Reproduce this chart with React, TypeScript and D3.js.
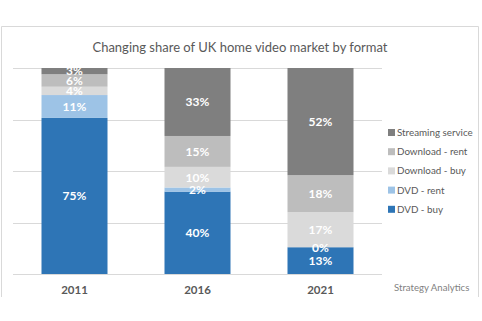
import React from "react";
import * as d3 from "d3";

const years = ["2011", "2016", "2021"];
const seriesNames = ["DVD - buy", "DVD - rent", "Download - buy", "Download - rent", "Streaming service"];
const dvdBuy = [75, 40, 13];
const dvdRent = [11, 2, 0];
const downloadBuy = [4, 10, 17];
const downloadRent = [6, 15, 18];
const streaming = [3, 33, 52];
const colors = ["#2E75B6", "#9DC3E6", "#DADADA", "#BDBDBD", "#7F7F7F"];
const gridTicks = [0, 0.25, 0.5, 0.75, 1];

const W = 482, H = 321;
const FONT = "Lato, 'Open Sans', sans-serif";

export default function App() {
  const seriesValues = [dvdBuy, dvdRent, downloadBuy, downloadRent, streaming];
  const rows = years.map((y, i) => {
    const r: any = { year: y };
    seriesNames.forEach((s, k) => (r[s] = seriesValues[k][i]));
    return r;
  });
  const stacked = d3.stack().keys(seriesNames).offset(d3.stackOffsetExpand)(rows);

  const x = d3.scaleBand().domain(years).range([13, 382]).paddingInner(0.4634).paddingOuter(0.2317);
  const y = d3.scaleLinear().domain([0, 1]).range([274, 68]);

  const legendOrder = [...seriesNames].reverse();

  return (
    <svg width={W} height={H} style={{ position: "absolute", left: 0, top: 0, background: "#fff" }}>
      <rect x={0} y={0} width={W} height={H} fill="#fff" />
      <path d={`M1.5,297 V26.5 H478.5 V297`} fill="none" stroke="#D9D9D9" strokeWidth={1} />
      <text x={240} y={52} textAnchor="middle" fontFamily={FONT} fontSize={13} fill="#595959">
        Changing share of UK home video market by format
      </text>
      {gridTicks.map((t) => (
        <line key={t} x1={13} x2={382} y1={Math.round(y(t)) + 0.5} y2={Math.round(y(t)) + 0.5} stroke="#D9D9D9" strokeWidth={1} />
      ))}
      {stacked.map((layer, k) => (
        <g key={layer.key}>
          {layer.map((d, i) => (
            <rect
              key={i}
              x={x(years[i])}
              y={y(d[1])}
              width={x.bandwidth()}
              height={y(d[0]) - y(d[1])}
              fill={colors[k]}
            />
          ))}
        </g>
      ))}
      {stacked.map((layer, k) => (
        <g key={"l" + layer.key}>
          {layer.map((d, i) => (
            <text
              key={i}
              x={(x(years[i]) as number) + x.bandwidth() / 2}
              y={y((d[0] + d[1]) / 2)}
              dy="0.36em"
              textAnchor="middle"
              fontFamily={FONT}
              fontWeight="bold"
              fontSize={12}
              fill="#fff"
            >
              {seriesValues[k][i] + "%"}
            </text>
          ))}
        </g>
      ))}
      {years.map((yr) => (
        <text
          key={yr}
          x={(x(yr) as number) + x.bandwidth() / 2}
          y={290}
          dy="0.36em"
          textAnchor="middle"
          fontFamily={FONT}
          fontWeight="bold"
          fontSize={11.5}
          fill="#595959"
        >
          {yr}
        </text>
      ))}
      {legendOrder.map((s, i) => {
        const k = seriesNames.indexOf(s);
        const cy = 132.5 + i * 19.2;
        return (
          <g key={s}>
            <rect x={388} y={cy - 3.5} width={7} height={7} fill={colors[k]} />
            <text x={397} y={cy} dy="0.36em" fontFamily={FONT} fontSize={9.8} fill="#595959">
              {s}
            </text>
          </g>
        );
      })}
      <text x={394} y={288} dy="0.36em" fontFamily={FONT} fontSize={9.6} fill="#7F7F7F">
        Strategy Analytics
      </text>
    </svg>
  );
}
